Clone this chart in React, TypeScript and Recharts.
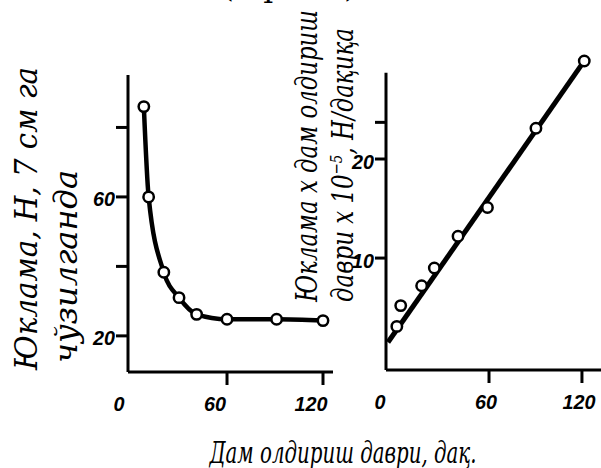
import React from "react";
import {
  ComposedChart,
  Line,
  LineChart,
  ReferenceLine,
  Scatter,
  XAxis,
  YAxis
} from "recharts";

// load while pulling 7 cm, N, against kneading time (min)
const loadTime = [8, 11, 20.5, 30, 41, 60, 91, 120];
const loadValues = [86, 60, 38.3, 31, 26.2, 24.8, 24.8, 24.4];

// load x kneading time x 10^-5, N/min
const productTime = [0.5, 3, 16.5, 24.7, 40, 59, 90.3, 121.5];
const productValues = [3.1, 5.2, 7.2, 9.0, 12.2, 15.1, 23.1, 29.9];

// straight fit through the product points
const fitTime = [-5.2, 121.5];
const fitValues = [1.5, 29.9];

const timeTicks = [0, 60, 120];
const loadTicks = [20, 40, 60, 80];
const loadTickLabels = [20, 60];
const productTicks = [10, 20, 23.7];
const productTickLabels = [10, 20];

const loadData = loadTime.map((t, i) => ({ t, v: loadValues[i] }));
const productData = productTime.map((t, i) => ({ t, v: productValues[i] }));
const fitData = fitTime.map((t, i) => ({ t, v: fitValues[i] }));

const numFont = "Liberation Sans, Arial, sans-serif";
const serif = "'DejaVu Serif', serif";
const AXIS = 3;

// condensed oblique digits for the tick labels
function Num({ x, y, anchor, value }: any) {
  const s = String(value);
  return (
    <text
      x={x}
      y={y}
      textAnchor={anchor}
      fontFamily={numFont}
      fontStyle="italic"
      fontWeight="bold"
      fontSize={21}
      textLength={s.length * 11}
      lengthAdjust="spacingAndGlyphs"
      fill="#000"
    >
      {s}
    </text>
  );
}

function XTick(props: any) {
  const { x, y, payload, shift } = props;
  const v = payload.value;
  const top = y - 13;
  return (
    <g>
      {v !== 0 && <line x1={x} x2={x} y1={top} y2={top + 13} stroke="#000" strokeWidth={AXIS} />}
      <Num x={x + shift(v)} y={top + 39} anchor="middle" value={v} />
    </g>
  );
}

function YTick(props: any) {
  const { x, y, payload, size, labels } = props;
  const v = payload.value;
  const axisX = x + size;
  return (
    <g>
      <line x1={axisX - size} x2={axisX} y1={y} y2={y} stroke="#000" strokeWidth={AXIS} />
      {labels.includes(v) && <Num x={axisX - size - 1} y={y + 9.5} anchor="end" value={v} />}
    </g>
  );
}

const ring = (props: any) => (
  <circle cx={props.cx} cy={props.cy} r={5.2} fill="#fff" stroke="#000" strokeWidth={2.5} />
);

function VText({ x, y, len, size, children }: any) {
  return (
    <text
      transform={`translate(${x},${y}) rotate(-90)`}
      textAnchor="middle"
      style={{ fontFamily: serif, fontStyle: "italic" }}
      fontSize={size}
      textLength={len}
      lengthAdjust="spacingAndGlyphs"
      fill="#000"
    >
      {children}
    </text>
  );
}

export default function App() {
  return (
    <div
      style={{
        position: "absolute",
        left: 0,
        top: 0,
        width: 601,
        height: 468,
        overflow: "hidden",
        background: "#fff"
      }}
    >
      <div style={{ position: "absolute", left: 88, top: 65 }}>
        <LineChart width={260} height={365} data={loadData} margin={{ top: 10, right: 15, bottom: 25, left: 0 }}>
          <XAxis
            dataKey="t"
            type="number"
            domain={[-1.9, 126.25]}
            ticks={timeTicks}
            height={33}
            tickSize={13}
            tickMargin={0}
            tickLine={false}
            axisLine={{ stroke: "#000", strokeWidth: AXIS }}
            tick={<XTick shift={() => -12} />}
          />
          <YAxis
            type="number"
            domain={[9.6, 95.1]}
            ticks={loadTicks}
            width={40}
            tickSize={12}
            tickMargin={0}
            tickLine={false}
            axisLine={{ stroke: "#000", strokeWidth: AXIS }}
            tick={<YTick size={12} labels={loadTickLabels} />}
          />
          <Line
            dataKey="v"
            type="monotone"
            stroke="#000"
            strokeWidth={4.5}
            dot={ring}
            isAnimationActive={false}
          />
        </LineChart>
      </div>

      <div style={{ position: "absolute", left: 346, top: 45 }}>
        <ComposedChart width={255} height={383} margin={{ top: 10, right: 0, bottom: 25, left: 0 }}>
          <XAxis
            dataKey="t"
            type="number"
            domain={[-6.5, 132.3]}
            ticks={timeTicks}
            height={33}
            tickSize={13}
            tickMargin={0}
            tickLine={false}
            axisLine={{ stroke: "#000", strokeWidth: AXIS }}
            tick={<XTick shift={(v: number) => (v === 0 ? -16 : -3)} />}
          />
          <YAxis
            type="number"
            domain={[-1.3, 30.5]}
            ticks={productTicks}
            width={40}
            tickSize={11}
            tickMargin={0}
            tickLine={false}
            axisLine={false}
            tick={<YTick size={11} labels={productTickLabels} />}
          />
          <ReferenceLine
            segment={[
              { x: -6.5, y: -1.3 },
              { x: -6.5, y: 28.7 }
            ]}
            stroke="#000"
            strokeWidth={AXIS}
            ifOverflow="visible"
          />
          <Line
            data={fitData}
            dataKey="v"
            type="linear"
            stroke="#000"
            strokeWidth={5}
            dot={false}
            isAnimationActive={false}
          />
          <Scatter data={productData} dataKey="v" shape={ring} isAnimationActive={false} />
        </ComposedChart>
      </div>

      <svg
        width={601}
        height={468}
        style={{ position: "absolute", left: 0, top: 0, pointerEvents: "none" }}
      >
        <text
          x={289}
          y={-3}
          textAnchor="middle"
          style={{ fontFamily: serif }}
          fontSize={30}
          textLength={135}
          lengthAdjust="spacingAndGlyphs"
        >
          (б-расм)
        </text>
        <VText x={37} y={218.5} len={303} size={31}>
          Юклама, Н, 7 см га
        </VText>
        <VText x={77} y={266.5} len={193} size={31}>
          чўзилганда
        </VText>
        <VText x={317} y={156} len={292} size={29}>
          Юклама х дам олдириш
        </VText>
        <VText x={353} y={165} len={274} size={29}>
          даври х 10
          <tspan dy={-11} fontSize={17}>
            −5
          </tspan>
          <tspan dy={11}>, Н/дақиқа</tspan>
        </VText>
        <text
          x={343}
          y={463}
          textAnchor="middle"
          style={{ fontFamily: serif, fontStyle: "italic" }}
          fontSize={29}
          textLength={267}
          lengthAdjust="spacingAndGlyphs"
        >
          Дам олдириш даври, дақ.
        </text>
      </svg>
    </div>
  );
}
